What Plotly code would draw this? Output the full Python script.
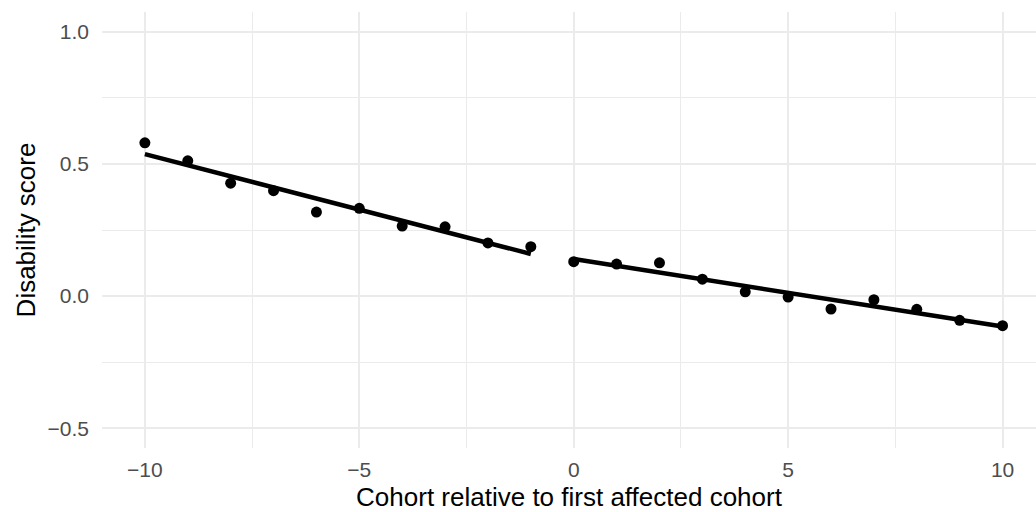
import numpy as np
import plotly.graph_objects as go

# Data
cohort_before = [-10, -9, -8, -7, -6, -5, -4, -3, -2, -1]
score_before = [0.580, 0.512, 0.427, 0.399, 0.318, 0.332, 0.265, 0.262, 0.201, 0.187]
cohort_after = [0, 1, 2, 3, 4, 5, 6, 7, 8, 9, 10]
score_after = [0.130, 0.121, 0.126, 0.064, 0.016, -0.004, -0.049, -0.014, -0.050, -0.092, -0.112]

x_ticks = [-10, -5, 0, 5, 10]
x_tick_labels = ["\u221210", "\u22125", "0", "5", "10"]
y_ticks = [-0.5, 0.0, 0.5, 1.0]
y_tick_labels = ["\u22120.5", "0.0", "0.5", "1.0"]

FONT = "Liberation Sans, Arial, sans-serif"


def fit_segment(xs, ys):
    slope, intercept = np.polyfit(xs, ys, 1)
    xe = np.array([min(xs), max(xs)], dtype=float)
    return xe, slope * xe + intercept


fig = go.Figure()
for xs, ys in [(cohort_before, score_before), (cohort_after, score_after)]:
    xe, ye = fit_segment(xs, ys)
    fig.add_trace(go.Scatter(x=xe, y=ye, mode="lines",
                             line=dict(color="black", width=4.5),
                             showlegend=False, hoverinfo="skip"))
    fig.add_trace(go.Scatter(x=xs, y=ys, mode="markers",
                             marker=dict(color="black", size=11, line=dict(width=0)),
                             showlegend=False))

grid = "#EBEBEB"
fig.update_layout(
    width=1036, height=512,
    margin=dict(l=102, r=0, t=12, b=64),
    paper_bgcolor="white", plot_bgcolor="white",
    font=dict(family=FONT, color="#4D4D4D", size=21),
    xaxis=dict(
        range=[-11, 10.78], tickmode="array", tickvals=x_ticks, ticktext=x_tick_labels,
        showgrid=True, gridcolor=grid, gridwidth=1.8, zeroline=False, showline=False,
        ticks="", ticklabelstandoff=7, automargin=False,
        minor=dict(tickmode="array", tickvals=[-7.5, -2.5, 2.5, 7.5], showgrid=True,
                   gridcolor=grid, gridwidth=0.9),
        title=dict(text="Cohort relative to first affected cohort",
                   font=dict(family=FONT, color="black", size=26), standoff=8),
    ),
    yaxis=dict(
        range=[-0.575, 1.075], tickmode="array", tickvals=y_ticks, ticktext=y_tick_labels,
        showgrid=True, gridcolor=grid, gridwidth=1.8, zeroline=False, showline=False,
        ticks="", ticklabelstandoff=12, automargin=False,
        minor=dict(tickmode="array", tickvals=[-0.25, 0.25, 0.75], showgrid=True,
                   gridcolor=grid, gridwidth=0.9),
        title=dict(text="Disability score",
                   font=dict(family=FONT, color="black", size=26), standoff=4),
    ),
)

fig.write_html("out.html")
